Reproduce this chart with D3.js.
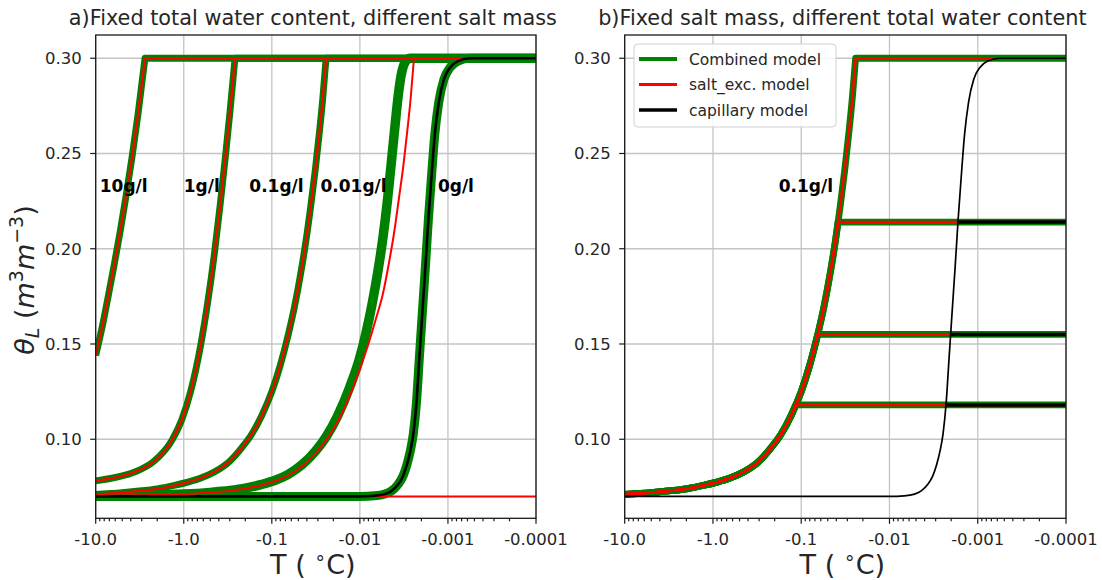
<!DOCTYPE html>
<html>
<head>
<meta charset="utf-8">
<script src="https://cdn.jsdelivr.net/npm/d3@7"></script>
<style>
  body { margin: 0; background: #ffffff; }
  svg { display: block; font-family: "DejaVu Sans", sans-serif; }
</style>
</head>
<body>
<svg id="chart" width="1102" height="580"></svg>
<script>
// ---- Data: temperature T (°C) and liquid water content theta_L (m3/m3) ----

// salt exclusion model, 10 g/l
const salt10T     = [-10, -8.48, -7.25, -6.20, -5.30, -4.53, -3.87, -3.31, -2.756];
const salt10Theta = [0.1440, 0.1585, 0.1745, 0.1910, 0.2085, 0.2275, 0.2480, 0.2705, 0.3000];

// salt exclusion model, 1 g/l
const salt1T     = [-10, -5.93, -3.52, -2.20, -1.354, -1.056, -0.835, -0.646, -0.536, -0.448, -0.386, -0.336, -0.297, -0.262];
const salt1Theta = [0.0782, 0.0800, 0.0830, 0.0883, 0.0997, 0.1101, 0.1251, 0.1488, 0.1715, 0.1977, 0.2230, 0.2486, 0.2730, 0.3000];

// salt exclusion model, 0.1 g/l
const salt01T     = [-10, -5, -3, -2, -1.3, -0.9, -0.65, -0.45, -0.3, -0.22, -0.17, -0.13, -0.1, -0.08, -0.065, -0.055, -0.047, -0.041, -0.036, -0.032, -0.029, -0.0265, -0.0242];
const salt01Theta = [0.0711, 0.0720, 0.0730, 0.0740, 0.0757, 0.0775, 0.0795, 0.0828, 0.0885, 0.0955, 0.1025, 0.1125, 0.1250, 0.1390, 0.1550, 0.1700, 0.1870, 0.2040, 0.2230, 0.2420, 0.2600, 0.2780, 0.3000];

// salt exclusion model, 0.01 g/l
const salt001T     = [-10, -3, -1, -0.5, -0.3, -0.2, -0.13, -0.09, -0.065, -0.045, -0.032, -0.024, -0.018, -0.013, -0.01, -0.008, -0.0065, -0.0055, -0.0047, -0.0041, -0.0036, -0.0032, -0.0029, -0.00265, -0.00243];
const salt001Theta = [0.0703, 0.0706, 0.0712, 0.0720, 0.0730, 0.0741, 0.0760, 0.0782, 0.0810, 0.0860, 0.0925, 0.0998, 0.1090, 0.1230, 0.1370, 0.1500, 0.1640, 0.1760, 0.1920, 0.2080, 0.2265, 0.2440, 0.2615, 0.2790, 0.3000];

// salt exclusion model, 0 g/l (residual water only)
const saltZeroT     = [-10, -0.0001];
const saltZeroTheta = [0.070, 0.070];

// combined model, 0.01 g/l
const comb001T     = [-10, -3, -1, -0.5, -0.3, -0.2, -0.13, -0.09, -0.065, -0.045, -0.032, -0.024, -0.018, -0.013, -0.01, -0.0085, -0.0072, -0.0062, -0.0055, -0.0049, -0.0044, -0.0040, -0.0037, -0.0034, -0.0031, -0.0027, -0.0001];
const comb001Theta = [0.0703, 0.0706, 0.0712, 0.0721, 0.0731, 0.0743, 0.0763, 0.0786, 0.0816, 0.0868, 0.0937, 0.1015, 0.1120, 0.1275, 0.1430, 0.1560, 0.1720, 0.1890, 0.2050, 0.2240, 0.2450, 0.2640, 0.2790, 0.2910, 0.2975, 0.3000, 0.3000];

// capillary model (also the combined model without salt)
const capT     = [-10, -0.01, -0.0068, -0.0052, -0.00433, -0.0037, -0.00325, -0.00293, -0.00267, -0.00247, -0.00228, -0.00211, -0.00195, -0.0018, -0.00167, -0.00154, -0.00141, -0.00127, -0.00111, -0.00095, -0.00077, -0.00056, -0.0001];
const capTheta = [0.0700, 0.0700, 0.0703, 0.0712, 0.0730, 0.0762, 0.0805, 0.0865, 0.0940, 0.1030, 0.1190, 0.1430, 0.1670, 0.1910, 0.2150, 0.2375, 0.2600, 0.2770, 0.2890, 0.2950, 0.2985, 0.3000, 0.3000];

// total water contents (panel b) and the one of panel a
const waterLevels = [0.30, 0.214, 0.155, 0.118];
const totalWater = 0.30;

// curve annotations
const saltLabels = ["10g/l", "1g/l", "0.1g/l", "0.01g/l", "0g/l"];
const saltLabelT = [-9, -1.0, -0.18, -0.028, -0.0013];
const labelTheta = 0.23;

// axes
const xTickValues = [-10, -1, -0.1, -0.01, -0.001, -0.0001];
const xTickLabels = ["-10.0", "-1.0", "-0.1", "-0.01", "-0.001", "-0.0001"];
const yTickValues = [0.10, 0.15, 0.20, 0.25, 0.30];
const yTickLabels = ["0.10", "0.15", "0.20", "0.25", "0.30"];
const tDomain = [-10, -0.0001];
const thetaDomain = [0.0585, 0.3122];

const legendNames = ["Combined model", "salt_exc. model", "capillary model"];
const titles = ["a)Fixed total water content, different salt mass",
                "b)Fixed salt mass, different total water content"];

// ---- Layout ----
const GREEN = "#008000", RED = "#ff0000", BLACK = "#000000";
const TEXT = "#262626";
const plotTop = 35, plotBottom = 518.3;
const panels = [{ left: 95.7, right: 536 }, { left: 624.7, right: 1066 }];

const svg = d3.select("#chart");

const y = d3.scaleLinear().domain(thetaDomain).range([plotBottom, plotTop]);

function zip(T, V) { return T.map((t, i) => [t, V[i]]); }

// points of a curve up to where it reaches `level`, the crossing found in log|T|
function capAt(T, V, level) {
  const pts = [];
  for (let i = 0; i < T.length; i++) {
    if (V[i] < level) { pts.push([T[i], V[i]]); continue; }
    if (i > 0 && V[i] > level) {
      const a = Math.log10(-T[i - 1]), b = Math.log10(-T[i]);
      const f = (level - V[i - 1]) / (V[i] - V[i - 1]);
      pts.push([-Math.pow(10, a + f * (b - a)), level]);
    } else {
      pts.push([T[i], level]);
    }
    break;
  }
  return pts;
}

panels.forEach((p, k) => {
  const xs = d3.scaleLog().domain([-tDomain[0], -tDomain[1]]).range([p.left, p.right]);
  const x = t => xs(-t);
  const g = svg.append("g");

  const clipId = "clip" + k;
  svg.append("clipPath").attr("id", clipId)
    .append("rect").attr("x", p.left).attr("y", plotTop)
    .attr("width", p.right - p.left).attr("height", plotBottom - plotTop);

  // grid
  const grid = g.append("g").attr("stroke", "#c4c4c4").attr("stroke-width", 1.3);
  xTickValues.forEach(t => grid.append("line")
    .attr("x1", x(t)).attr("x2", x(t)).attr("y1", plotTop).attr("y2", plotBottom));
  yTickValues.forEach(v => grid.append("line")
    .attr("x1", p.left).attr("x2", p.right).attr("y1", y(v)).attr("y2", y(v)));

  const plot = g.append("g").attr("clip-path", `url(#${clipId})`)
    .attr("fill", "none").attr("stroke-linejoin", "round");

  const smooth = d3.line().x(d => x(d[0])).y(d => y(d[1])).curve(d3.curveMonotoneX);
  const tEnd = tDomain[1];
  // a curve that rises to a total water content and stays there
  const capped = (T, V, level) => {
    const pts = capAt(T, V, level);
    return smooth(pts) + `L${x(tEnd)},${y(level)}`;
  };
  const draw = (d, color, w) => plot.append("path").attr("d", d)
    .attr("stroke", color).attr("stroke-width", w);

  if (k === 0) {
    const saltSets = [[salt10T, salt10Theta], [salt1T, salt1Theta], [salt01T, salt01Theta]];
    // combined model
    saltSets.forEach(([T, V]) => draw(capped(T, V, totalWater), GREEN, 6.8));
    draw(smooth(zip(comb001T, comb001Theta)), GREEN, 9.5);
    draw(smooth(zip(capT, capTheta)), GREEN, 9);
    // salt exclusion model
    saltSets.forEach(([T, V]) => draw(capped(T, V, totalWater), RED, 2.3));
    draw(capped(salt001T, salt001Theta, totalWater), RED, 2);
    draw(smooth(zip(saltZeroT, saltZeroTheta)), RED, 2);
    // capillary model
    draw(smooth(zip(capT, capTheta)), BLACK, 2.6);
  } else {
    waterLevels.forEach(L => draw(capped(salt01T, salt01Theta, L), GREEN, 6.8));
    waterLevels.forEach(L => draw(capped(salt01T, salt01Theta, L), RED, 2.5));
    draw(smooth(zip(capT, capTheta)), BLACK, 1.7);
    waterLevels.filter(L => L < totalWater).forEach(L => {
      const pts = capAt(capT, capTheta, L);
      const c = pts[pts.length - 1];
      plot.append("line").attr("x1", x(c[0])).attr("x2", x(tEnd))
        .attr("y1", y(L)).attr("y2", y(L))
        .attr("stroke", BLACK).attr("stroke-width", 3.4);
    });
  }

  // frame
  g.append("rect").attr("x", p.left).attr("y", plotTop)
    .attr("width", p.right - p.left).attr("height", plotBottom - plotTop)
    .attr("fill", "none").attr("stroke", "#1a1a1a").attr("stroke-width", 1.3);

  // x ticks (major + log minor)
  const ticks = g.append("g").attr("stroke", "#1a1a1a").attr("stroke-width", 1.2);
  xs.ticks().forEach(m => {
    const major = xTickValues.some(t => Math.abs(-t - m) / m < 1e-6);
    ticks.append("line").attr("x1", xs(m)).attr("x2", xs(m))
      .attr("y1", plotBottom).attr("y2", plotBottom + (major ? 5.5 : 3));
  });
  yTickValues.forEach(v => ticks.append("line")
    .attr("x1", p.left - 5.5).attr("x2", p.left).attr("y1", y(v)).attr("y2", y(v)));

  g.selectAll(".xtl").data(xTickValues).join("text")
    .attr("x", t => x(t)).attr("y", plotBottom + 27)
    .attr("text-anchor", "middle").attr("font-size", 16.5).attr("fill", TEXT)
    .text((t, i) => xTickLabels[i]);
  g.selectAll(".ytl").data(yTickValues).join("text")
    .attr("x", p.left - 14).attr("y", v => y(v)).attr("dy", "0.36em")
    .attr("text-anchor", "end").attr("font-size", 16.5).attr("fill", TEXT)
    .text((v, i) => yTickLabels[i]);

  // title
  g.append("text").attr("x", (p.left + p.right) / 2 - 3).attr("y", 25)
    .attr("text-anchor", "middle").attr("font-size", 20.8).attr("fill", TEXT)
    .text(titles[k]);

  // x label
  const xl = g.append("text").attr("x", (p.left + p.right) / 2 - 3).attr("y", 574)
    .attr("text-anchor", "middle").attr("font-size", 27).attr("fill", TEXT);
  xl.append("tspan").text("T ( ");
  xl.append("tspan").attr("font-size", 19).attr("dy", -10).text("\u2218");
  xl.append("tspan").attr("dy", 10).text("C)");

  // curve labels
  const lab = k === 0 ? saltLabels.map((s, i) => [s, saltLabelT[i]])
                      : [[saltLabels[2], saltLabelT[2]]];
  lab.forEach(([s, t]) => g.append("text").attr("x", x(t)).attr("y", y(labelTheta))
    .attr("font-size", 17).attr("font-weight", "bold").attr("fill", "#000").text(s));

  if (k === 1) {
    // legend
    const lg = g.append("g");
    lg.append("rect").attr("x", 634).attr("y", 44).attr("width", 202).attr("height", 83)
      .attr("rx", 4).attr("fill", "#fff").attr("fill-opacity", 0.85)
      .attr("stroke", "#d0d0d0").attr("stroke-width", 1);
    const cols = [GREEN, RED, BLACK], widths = [4, 3, 3.5];
    legendNames.forEach((n, i) => {
      const cy = 59 + i * 25.5;
      lg.append("line").attr("x1", 639).attr("x2", 677).attr("y1", cy).attr("y2", cy)
        .attr("stroke", cols[i]).attr("stroke-width", widths[i]);
      lg.append("text").attr("x", 689).attr("y", cy).attr("dy", "0.36em")
        .attr("font-size", 15.5).attr("fill", TEXT).text(n);
    });
  }
});

// y label
const yl = svg.append("text").attr("transform", "translate(34,280) rotate(-90)")
  .attr("text-anchor", "middle").attr("font-size", 27).attr("fill", TEXT);
yl.append("tspan").attr("font-style", "italic").text("\u03b8");
yl.append("tspan").attr("font-style", "italic").attr("font-size", 19).attr("dy", 5).text("L");
yl.append("tspan").attr("dy", -5).text(" (");
yl.append("tspan").attr("font-style", "italic").text("m");
yl.append("tspan").attr("font-size", 19).attr("dy", -11).text("3");
yl.append("tspan").attr("font-style", "italic").attr("dy", 11).text("m");
yl.append("tspan").attr("font-size", 19).attr("dy", -11).text("\u22123");
yl.append("tspan").attr("dy", 11).text(")");
</script>
</body>
</html>
